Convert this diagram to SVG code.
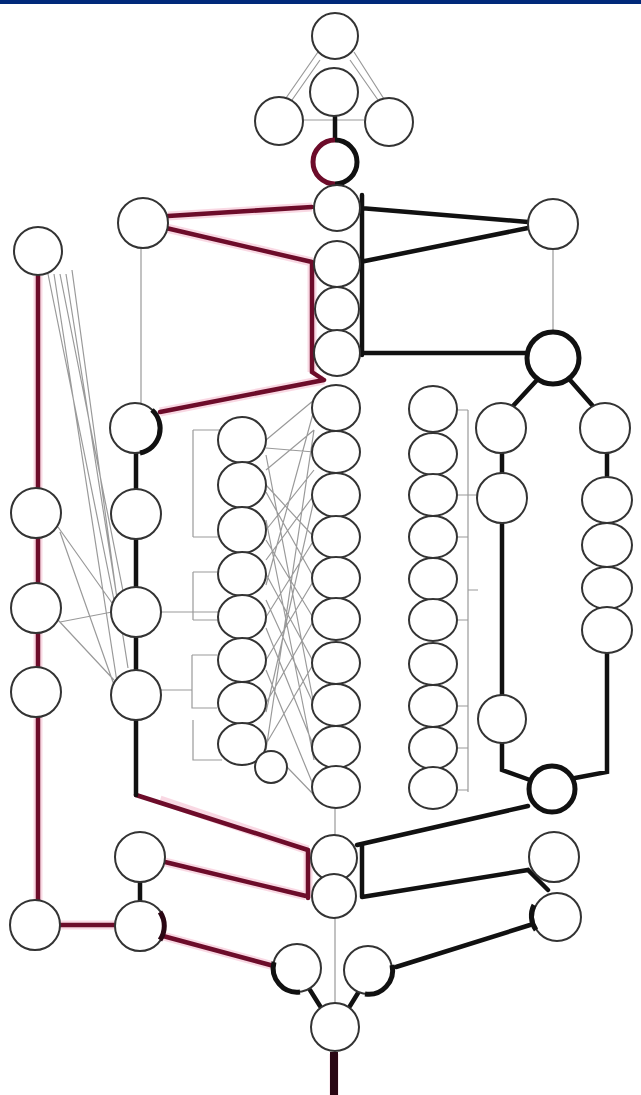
<svg xmlns="http://www.w3.org/2000/svg" width="641" height="1095" viewBox="0 0 641 1095">
<style>
.n{fill:#fff;stroke:#333;stroke-width:2}
.t{fill:#fff;stroke:#111;stroke-width:5}
.g{stroke:#9a9a9a;stroke-width:1.2;fill:none}
.k{stroke:#111;stroke-width:4.5;fill:none;stroke-linecap:round}
.r{stroke:#6d0c2a;stroke-width:4.5;fill:none;stroke-linecap:round}
.h{stroke:#f2a9c0;stroke-width:9;fill:none;opacity:.45}
</style>
<rect width="641" height="1095" fill="#fff"/>
<rect width="641" height="4" fill="#00297a"/>
<g id="connectors">
<path class="g" d="M318 52L286 98M354 52L384 99M302 120H364M320 60L292 100M350 60L378 100"/>
<path class="h" d="M168 216L312 207M166 228L312 262M312 262V372M324 380L160 412M38 276V900M60 925H115M160 800L308 850M165 862L306 896M163 936L274 966M308 850V898M334 1054V1095"/>
<path class="r" d="M168 216L312 207M166 228L312 262M312 262V372L324 380M324 380L160 412M38 276V900M60 925H115M136 795L308 850M165 862L306 896M163 936L274 966M308 850V898"/>
<path class="k" d="M360 208L528 222M360 262L528 228M362 195V355M362 353H526M335 117V138"/>
<path class="k" d="M537 380L513 406M570 380L592 405M502 453V474M502 523V695M502 743V770L530 780M607 453V476M607 653V772L575 778"/>
<path class="k" d="M136 453V490M136 538V587M136 637V677M136 715V795"/>
<path class="k" d="M528 806L357 845M362 845V897M362 897L528 870L548 890M530 925L396 967M140 882V902M310 990L320 1006M358 993L350 1006"/>
<path d="M334 1052V1095" stroke="#2a0714" stroke-width="8"/>
<path class="g" d="M141 248V403M553 250V330M335 809V835M335 918V1002"/>
<path class="g" d="M48 274L114 600M54 274L117 682M60 274L124 596M66 274L128 668M72 270L118 606M58 527L112 603M60 532L114 685M58 620L114 680M60 622L112 612"/>
<path class="g" d="M193 430V537M193 430H220M193 537H218M193 572V620M193 572H218M160 612H218M193 620H218M192 655V708H217M192 655H217M160 690H192M193 720V760H222"/>
<path class="g" d="M468 410V792M458 410H468M458 495H478M458 537H468M458 620H468M458 706H468M458 748H468M458 790H468M468 590H478"/>
<path class="g" d="M266 440L314 400M266 448L314 452M266 470L314 430M266 485L314 537M266 492L314 578M266 530L314 470M266 540L314 619M266 560L314 495M266 574L314 663M266 585L314 410M266 600L314 705M266 617L314 540M266 628L314 747M266 660L314 580M266 670L314 787M266 703L314 620M266 712L314 500M266 744L314 663M266 750L314 430M287 767L314 795M266 455L314 705M266 520L314 760"/>
</g>
<g id="n-top"><circle class="n" cx="335" cy="36" r="23"/></g>
<g id="n-top2"><circle class="n" cx="334" cy="92" r="24"/></g>
<g id="n-topL"><circle class="n" cx="279" cy="121" r="24"/></g>
<g id="n-topR"><circle class="n" cx="389" cy="122" r="24"/></g>
<g id="n-hub"><circle cx="335" cy="162" r="22" fill="#fff"/><path d="M335 140A22 22 0 0 1 335 184" stroke="#111" stroke-width="5" fill="none"/><path d="M335 140A22 22 0 0 0 335 184" stroke="#6d0c2a" stroke-width="5" fill="none"/></g>
<g id="n-c1"><circle class="n" cx="337" cy="208" r="23"/></g>
<g id="n-c2"><circle class="n" cx="337" cy="264" r="23"/></g>
<g id="n-c3"><circle class="n" cx="337" cy="309" r="22"/></g>
<g id="n-c4"><circle class="n" cx="337" cy="353" r="23"/></g>
<g id="n-W"><circle class="n" cx="143" cy="223" r="25"/></g>
<g id="n-E"><circle class="n" cx="553" cy="224" r="25"/></g>
<g id="n-Eh"><circle class="t" cx="553" cy="358" r="26"/></g>
<g id="n-L1"><circle class="n" cx="38" cy="251" r="24"/></g>
<g id="n-L2"><circle class="n" cx="36" cy="513" r="25"/></g>
<g id="n-L3"><circle class="n" cx="36" cy="608" r="25"/></g>
<g id="n-L4"><circle class="n" cx="36" cy="692" r="25"/></g>
<g id="n-W2"><circle class="n" cx="135" cy="428" r="25"/><path d="M152 410A25 25 0 0 1 140 453" stroke="#111" stroke-width="5" fill="none"/></g>
<g id="n-W3"><circle class="n" cx="136" cy="514" r="25"/></g>
<g id="n-W4"><circle class="n" cx="136" cy="612" r="25"/></g>
<g id="n-W5"><circle class="n" cx="136" cy="695" r="25"/></g>
<g id="col2b">
<ellipse class="n" cx="242" cy="440" rx="24" ry="23"/>
<ellipse class="n" cx="242" cy="485" rx="24" ry="23"/>
<ellipse class="n" cx="242" cy="530" rx="24" ry="23"/>
<ellipse class="n" cx="242" cy="574" rx="24" ry="22"/>
<ellipse class="n" cx="242" cy="617" rx="24" ry="22"/>
<ellipse class="n" cx="242" cy="660" rx="24" ry="22"/>
<ellipse class="n" cx="242" cy="703" rx="24" ry="21"/>
<ellipse class="n" cx="242" cy="744" rx="24" ry="21"/>
<circle class="n" cx="271" cy="767" r="16"/>
</g>
<g id="colC">
<ellipse class="n" cx="336" cy="408" rx="24" ry="23"/>
<ellipse class="n" cx="336" cy="452" rx="24" ry="21"/>
<ellipse class="n" cx="336" cy="495" rx="24" ry="22"/>
<ellipse class="n" cx="336" cy="537" rx="24" ry="21"/>
<ellipse class="n" cx="336" cy="578" rx="24" ry="21"/>
<ellipse class="n" cx="336" cy="619" rx="24" ry="21"/>
<ellipse class="n" cx="336" cy="663" rx="24" ry="21"/>
<ellipse class="n" cx="336" cy="705" rx="24" ry="21"/>
<ellipse class="n" cx="336" cy="747" rx="24" ry="21"/>
<ellipse class="n" cx="336" cy="787" rx="24" ry="21"/>
</g>
<g id="col3">
<ellipse class="n" cx="433" cy="409" rx="24" ry="23"/>
<ellipse class="n" cx="433" cy="454" rx="24" ry="21"/>
<ellipse class="n" cx="433" cy="495" rx="24" ry="21"/>
<ellipse class="n" cx="433" cy="537" rx="24" ry="21"/>
<ellipse class="n" cx="433" cy="579" rx="24" ry="21"/>
<ellipse class="n" cx="433" cy="620" rx="24" ry="21"/>
<ellipse class="n" cx="433" cy="664" rx="24" ry="21"/>
<ellipse class="n" cx="433" cy="706" rx="24" ry="21"/>
<ellipse class="n" cx="433" cy="748" rx="24" ry="21"/>
<ellipse class="n" cx="433" cy="788" rx="24" ry="21"/>
</g>
<g id="n-R1"><circle class="n" cx="501" cy="428" r="25"/></g>
<g id="n-R2"><circle class="n" cx="502" cy="498" r="25"/></g>
<g id="n-R3"><circle class="n" cx="502" cy="719" r="24"/></g>
<g id="colR">
<circle class="n" cx="605" cy="428" r="25"/>
<ellipse class="n" cx="607" cy="500" rx="25" ry="23"/>
<ellipse class="n" cx="607" cy="545" rx="25" ry="22"/>
<ellipse class="n" cx="607" cy="588" rx="25" ry="21"/>
<ellipse class="n" cx="607" cy="630" rx="25" ry="23"/>
</g>
<g id="n-Rb"><circle class="t" cx="552" cy="789" r="23"/></g>
<g id="n-M1"><circle class="n" cx="334" cy="858" r="23"/></g>
<g id="n-M2"><circle class="n" cx="334" cy="896" r="22"/></g>
<g id="n-E2"><circle class="n" cx="554" cy="857" r="25"/></g>
<g id="n-E3"><circle class="n" cx="557" cy="917" r="24"/><path d="M534 905A24 24 0 0 0 536 930" stroke="#111" stroke-width="5" fill="none"/></g>
<g id="n-B1"><circle class="n" cx="140" cy="857" r="25"/></g>
<g id="n-B2"><circle class="n" cx="140" cy="926" r="25"/><path d="M160 912A25 25 0 0 1 160 940" stroke="#2a0714" stroke-width="5" fill="none"/></g>
<g id="n-B0"><circle class="n" cx="35" cy="925" r="25"/></g>
<g id="n-BL"><circle class="n" cx="297" cy="968" r="24"/><path d="M274 962A24 24 0 0 0 300 992" stroke="#111" stroke-width="5" fill="none"/></g>
<g id="n-BR"><circle class="n" cx="368" cy="970" r="24"/><path d="M392 965A24 24 0 0 1 365 994" stroke="#111" stroke-width="5" fill="none"/></g>
<g id="n-end"><circle class="n" cx="335" cy="1027" r="24"/></g>
</svg>
